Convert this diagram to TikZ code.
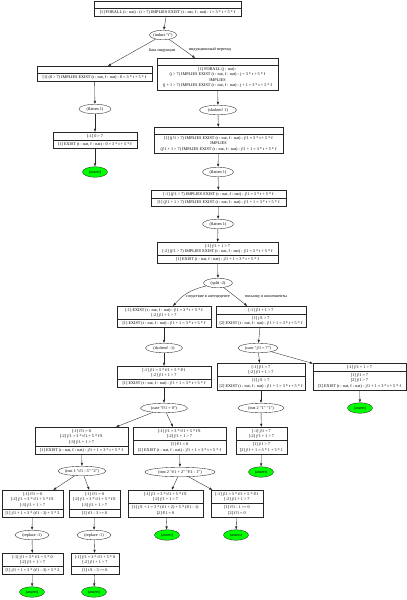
\documentclass[tikz,border=0pt]{standalone}
\usepackage{fontspec}
\setmainfont{Liberation Serif}
\usetikzlibrary{shapes.geometric,arrows.meta}
\newcommand{\pvsfont}{\fontsize{4.2}{5.6}\selectfont}
\tikzset{
  x=1pt, y=-1pt,
  recbox/.style={draw=black!85, line width=0.35pt, inner sep=0pt, outer sep=0pt, rectangle},
  recline/.style={draw=black!85, line width=0.35pt},
  rtxt/.style={inner sep=0pt, align=center, font=\pvsfont},
  ell/.style={ellipse, draw=black!85, line width=0.35pt, inner sep=0pt, minimum width=#1, minimum height=9.5pt, font=\pvsfont},
  okell/.style={ellipse, draw=black!85, line width=0.35pt, fill=green, inner sep=0pt, minimum width=25pt, minimum height=10.5pt, font=\pvsfont},
  lab/.style={inner sep=0pt, font=\pvsfont},
  edge/.style={-{Latex[length=3.2pt,width=2.4pt]}, draw=black!85, line width=0.35pt}
}
% #1 name #2 xl #3 xr #4 ytop #5 ntop #6 nbot #7 top #8 bottom
\newcommand{\rbox}[8]{%
  \pgfmathsetmacro{\rbT}{ifthenelse(#5==0,7,#5*5.6+2.4)}%
  \pgfmathsetmacro{\rbB}{#6*5.6+2.4}%
  \pgfmathsetmacro{\rbD}{#4+\rbT}%
  \pgfmathsetmacro{\rbE}{\rbD+\rbB}%
  \pgfmathsetmacro{\rbX}{(#2+#3)/2}%
  \pgfmathsetmacro{\rbW}{#3-#2}%
  \pgfmathsetmacro{\rbHt}{\rbE-#4}%
  \pgfmathsetmacro{\rbCy}{(#4+\rbE)/2}%
  \pgfmathsetmacro{\rbTy}{(#4+\rbD)/2}%
  \pgfmathsetmacro{\rbBy}{(\rbD+\rbE)/2}%
  \node[recbox, minimum width=\rbW pt, minimum height=\rbHt pt] (#1) at (\rbX,\rbCy) {};
  \draw[recline] (#2,\rbD) -- (#3,\rbD);
  \node[rtxt] (#1-t) at (\rbX,\rbTy) {#7};
  \node[rtxt] (#1-b) at (\rbX,\rbBy) {#8};
}
\begin{document}
\begin{tikzpicture}
\path[use as bounding box, fill=white] (0,0) rectangle (407,600);

\rbox{root}{94}{241}{1}{0}{1}{}{[1] FORALL (i : nat) : (i > 7) IMPLIES EXIST (t : nat, f : nat) : i = 3 * t + 5 * f}
\node[ell=27pt] (induct) at (163,35) {(induct "i")};

\rbox{base}{37}{152}{66}{0}{1}{}{[1] (0 > 7) IMPLIES EXIST (t : nat, f : nat) : 0 = 3 * t + 5 * f}
\node[ell=32pt] (flB) at (95,109) {(flatten 1)};
\rbox{base2}{53}{137}{132}{1}{1}{[-1] 0 > 7}{[1] EXIST (t : nat, f : nat) : 0 = 3 * t + 5 * f}
\node[okell] (asB) at (95,172) {(assert)};

\rbox{step}{157}{278}{58}{0}{4}{}{[1] FORALL (j : nat) :\\{}(j > 7) IMPLIES EXIST (t : nat, f : nat) : j = 3 * t + 5 * f\\{}IMPLIES\\{}(j + 1 > 7) IMPLIES EXIST (t : nat, f : nat) : j + 1 = 3 * t + 5 * f}
\node[ell=37pt] (sk1) at (218,110) {(skolem! 1)};
\rbox{sk}{154}{283}{127}{0}{3}{}{[1] (j!1 > 7) IMPLIES EXIST (t : nat, f : nat) : j!1 = 3 * t + 5 * f\\{}IMPLIES\\{}(j!1 + 1 > 7) IMPLIES EXIST (t : nat, f : nat) : j!1 + 1 = 3 * t + 5 * f}
\node[ell=31pt] (fl1e) at (218,172) {(flatten 1)};
\rbox{fl1}{151}{286}{190}{1}{1}{[-1] (j!1 > 7) IMPLIES EXIST (t : nat, f : nat) : j!1 = 3 * t + 5 * f}{[1] (j!1 + 1 > 7) IMPLIES EXIST (t : nat, f : nat) : j!1 + 1 = 3 * t + 5 * f}
\node[ell=31pt] (fl2e) at (218,224) {(flatten 1)};
\rbox{fl2}{157}{278}{242}{2}{1}{[-1] j!1 + 1 > 7\\{}[-2] (j!1 > 7) IMPLIES EXIST (t : nat, f : nat) : j!1 = 3 * t + 5 * f}{[1] EXIST (t : nat, f : nat) : j!1 + 1 = 3 * t + 5 * f}
\node[ell=29pt] (split) at (218,283) {(split -2)};

\rbox{spL}{117}{211}{306}{2}{1}{[-1] EXIST (t : nat, f : nat) : j!1 = 3 * t + 5 * f\\{}[-2] j!1 + 1 > 7}{[1] EXIST (t : nat, f : nat) : j!1 + 1 = 3 * t + 5 * f}
\rbox{spR}{216}{306}{306}{1}{2}{[-1] j!1 + 1 > 7}{[1] j!1 > 7\\{}[2] EXIST (t : nat, f : nat) : j!1 + 1 = 3 * t + 5 * f}

\node[ell=37pt] (sk2) at (164,348) {(skolem! -1)};
\node[ell=40pt] (c7e) at (258,348) {(case "j!1 = 7")};

\rbox{skb}{117}{211}{366}{2}{1}{[-1] j!1 = 3 * t!1 + 5 * f!1\\{}[-2] j!1 + 1 > 7}{[1] EXIST (t : nat, f : nat) : j!1 + 1 = 3 * t + 5 * f}
\rbox{c7L}{217}{305}{363}{2}{2}{[-1] j!1 = 7\\{}[-2] j!1 + 1 > 7}{[1] j!1 > 7\\{}[2] EXIST (t : nat, f : nat) : j!1 + 1 = 3 * t + 5 * f}
\rbox{c7R}{313}{406}{363}{1}{3}{[-1] j!1 + 1 > 7}{[1] j!1 = 7\\{}[2] j!1 > 7\\{}[3] EXIST (t : nat, f : nat) : j!1 + 1 = 3 * t + 5 * f}

\node[ell=47pt] (cfe) at (164,408) {(case "f!1 = 0")};
\node[ell=46pt] (i11e) at (261,408) {(inst 2 "1" "1")};
\node[okell] (asR) at (360,408) {(assert)};

\rbox{cfL}{35}{128}{427}{3}{1}{[-1] f!1 = 0\\{}[-2] j!1 = 3 * t!1 + 5 * f!1\\{}[-3] j!1 + 1 > 7}{[1] EXIST (t : nat, f : nat) : j!1 + 1 = 3 * t + 5 * f}
\rbox{cfR}{133}{226}{427}{2}{2}{[-1] j!1 = 3 * t!1 + 5 * f!1\\{}[-2] j!1 + 1 > 7}{[1] f!1 = 0\\{}[2] EXIST (t : nat, f : nat) : j!1 + 1 = 3 * t + 5 * f}
\rbox{i11}{236}{287}{427}{2}{2}{[-1] j!1 = 7\\{}[-2] j!1 + 1 > 7}{[1] j!1 > 7\\{}[2] j!1 + 1 = 3 * 1 + 5 * 1}

\node[ell=38pt] (iLe) at (82,471) {(inst 1 "t!1 - 3" "2")};
\node[ell=70pt] (iRe) at (180,472) {(inst 2 "t!1 + 2" "f!1 - 1")};
\node[okell] (as11) at (261,472) {(assert)};

\rbox{iLL}{2}{63}{490}{3}{1}{[-1] f!1 = 0\\{}[-2] j!1 = 3 * t!1 + 5 * f!1\\{}[-3] j!1 + 1 > 7}{[1] j!1 + 1 = 3 * (t!1 - 3) + 5 * 2}
\rbox{iLR}{69}{120}{490}{3}{1}{[-1] f!1 = 0\\{}[-2] j!1 = 3 * t!1 + 5 * f!1\\{}[-3] j!1 + 1 > 7}{[1] t!1 - 3 >= 0}
\rbox{iRL}{128}{203}{490}{2}{2}{[-1] j!1 = 3 * t!1 + 5 * f!1\\{}[-2] j!1 + 1 > 7}{[1] j!1 + 1 = 3 * (t!1 + 2) + 5 * (f!1 - 1)\\{}[2] f!1 = 0}
\rbox{iRR}{211}{263}{490}{2}{2}{[-1] j!1 = 3 * t!1 + 5 * f!1\\{}[-2] j!1 + 1 > 7}{[1] f!1 - 1 >= 0\\{}[2] f!1 = 0}

\node[ell=34pt] (rLe) at (32,535) {(replace -1)};
\node[ell=34pt] (rRe) at (94,535) {(replace -1)};
\node[okell] (asRL) at (167,535) {(assert)};
\node[okell] (asRR) at (236,535) {(assert)};

\rbox{rLL}{2}{63}{553}{2}{1}{[-1] j!1 = 3 * t!1 + 5 * 0\\{}[-2] j!1 + 1 > 7}{[1] j!1 + 1 = 3 * (t!1 - 3) + 5 * 2}
\rbox{rLR}{71}{119}{553}{2}{1}{[-1] j!1 = 3 * t!1 + 5 * 0\\{}[-2] j!1 + 1 > 7}{[1] t!1 - 3 >= 0}

\node[okell] (asLL) at (32,592) {(assert)};
\node[okell] (asLR) at (94,592) {(assert)};

% labels
\node[lab] (l1) at (162,50) {база индукции};
\node[lab] (l2) at (210,50) {индукционный переход};
\node[lab] (l3) at (208,297) {следствие в антецеденте};
\node[lab] (l4) at (266,297) {посылку в консеквенты};

% edges
\draw[edge] (root) -- (induct);
\draw[edge] (induct) -- (base);
\draw[edge] (induct) -- (step);
\draw[edge] (base) -- (flB);
\draw[edge] (flB) -- (base2);
\draw[edge] (base2) -- (asB);
\draw[edge] (step) -- (sk1);
\draw[edge] (sk1) -- (sk);
\draw[edge] (sk) -- (fl1e);
\draw[edge] (fl1e) -- (fl1);
\draw[edge] (fl1) -- (fl2e);
\draw[edge] (fl2e) -- (fl2);
\draw[edge] (fl2) -- (split);
\draw[edge] (split) to[bend right=18] (spL);
\draw[edge] (split) -- (spR);
\draw[edge] (spL) -- (sk2);
\draw[edge] (sk2) -- (skb);
\draw[edge] (skb) -- (cfe);
\draw[edge] (spR) -- (c7e);
\draw[edge] (c7e) -- (c7L);
\draw[edge] (c7e) -- (c7R);
\draw[edge] (c7R) -- (asR);
\draw[edge] (c7L) -- (i11e);
\draw[edge] (i11e) -- (i11);
\draw[edge] (i11) -- (as11);
\draw[edge] (cfe) -- (cfL);
\draw[edge] (cfe) -- (cfR);
\draw[edge] (cfL) -- (iLe);
\draw[edge] (cfR) -- (iRe);
\draw[edge] (iLe) -- (iLL);
\draw[edge] (iLe) -- (iLR);
\draw[edge] (iRe) -- (iRL);
\draw[edge] (iRe) -- (iRR);
\draw[edge] (iRL) -- (asRL);
\draw[edge] (iRR) -- (asRR);
\draw[edge] (iLL) -- (rLe);
\draw[edge] (iLR) -- (rRe);
\draw[edge] (rLe) -- (rLL);
\draw[edge] (rRe) -- (rLR);
\draw[edge] (rLL) -- (asLL);
\draw[edge] (rLR) -- (asLR);
\end{tikzpicture}
\end{document}
